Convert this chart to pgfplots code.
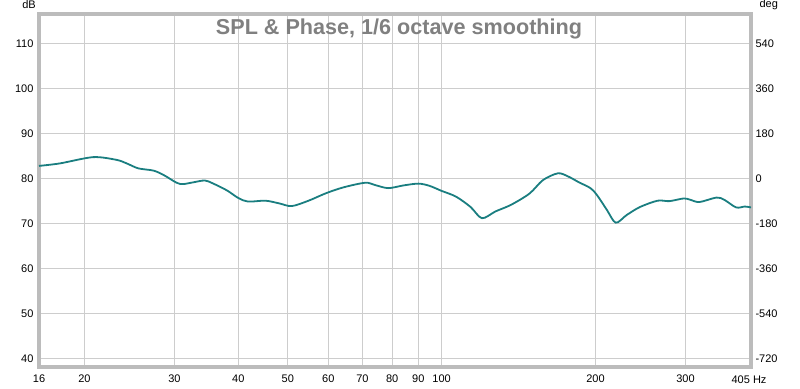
\documentclass[border=0pt]{standalone}
\usepackage{pgfplots}
\pgfplotsset{compat=1.18}
\usepackage{fontspec}
\setmainfont{Liberation Sans}
\definecolor{curve}{RGB}{26,126,128}
\definecolor{gridc}{RGB}{205,205,205}
\definecolor{framec}{RGB}{188,188,188}
\definecolor{titlec}{RGB}{128,128,128}
\begin{document}
\begin{tikzpicture}
\useasboundingbox (-39pt,-21pt) rectangle (761pt,367pt);
\begin{axis}[
 at={(0,0)}, anchor=south west,
 scale only axis, width=712pt, height=353pt,
 xmode=log, xmin=16.3, xmax=403,
 ymin=38.06, ymax=116.68,
 xtick={16.3,20,30,40,50,60,70,80,90,100,200,300,403},
 xticklabels={16,20,30,40,50,60,70,80,90,100,200,300,},
 ytick={40,50,...,110},
 grid=major, major grid style={gridc, line width=1pt},
 major tick length=0pt,
 axis line style={framec, line width=3.2pt},
 tick label style={font=\fontsize{11}{13}\selectfont, text=black},
 /pgf/number format/assume math mode=true,
 xticklabel style={yshift=-4pt},
 yticklabel style={xshift=-2pt},
 clip=false,
]
\addplot[curve, line width=1.8pt, smooth, tension=0.5] coordinates {
(16.3,82.85) (17.9,83.4) (20.8,84.8) (23.1,84.2) (24.2,83.4) (25.5,82.3)
(27.3,81.8) (28.6,80.8) (30.3,79.1) (31.2,78.8) (32.7,79.2) (34.4,79.6)
(35.6,79.0) (38.0,77.4) (40.0,75.7) (41.8,74.9) (45.2,75.1) (48.1,74.5)
(50.9,73.9) (54.9,75.1) (59.5,76.8) (64.4,78.1) (70.9,79.1) (74.0,78.6)
(78.6,77.9) (84.2,78.5) (90.1,78.9) (94.7,78.4) (99.9,77.3) (106.7,76.0)
(113.9,73.7) (119.9,71.2) (127.4,72.7) (136.8,74.2) (148.6,76.7) (157.9,79.7)
(168.9,81.2) (176.8,80.5) (185.6,79.2) (195.5,77.9) (201.2,76.4) (210.4,73.1)
(219.1,70.2) (230.1,71.9) (244.4,73.7) (264.6,75.1) (279.0,75.0) (297.7,75.6)
(306.6,75.3) (319.5,74.8) (345.0,75.8) (357.3,75.3) (377.0,73.6) (392.0,73.8)
(403,73.6)
};
\node[anchor=base, yshift=-20pt, font=\fontsize{21.6}{26}\selectfont\bfseries, text=titlec]
  at (rel axis cs:0.5056,1) {SPL \& Phase, 1/6 octave smoothing};
\node[anchor=base, xshift=-10pt, yshift=5pt, font=\fontsize{11}{13}\selectfont] at (rel axis cs:0,1) {dB};
\node[anchor=base west, xshift=5pt, yshift=6pt, font=\fontsize{11}{13}\selectfont] at (rel axis cs:1,1) {deg};
\node[anchor=base east, xshift=19pt, yshift=-16pt, font=\fontsize{11}{13}\selectfont] at (rel axis cs:1,0) {405 Hz};
\end{axis}
\begin{axis}[
 at={(0,0)}, anchor=south west,
 scale only axis, width=712pt, height=353pt,
 xmode=log, xmin=16.3, xmax=403,
 hide x axis, axis y line*=right,
 ymin=-754.9, ymax=660.2,
 ytick={-720,-540,-360,-180,0,180,360,540},
 major tick length=0pt,
 axis line style={draw=none},
 yticklabel style={font=\fontsize{11}{13}\selectfont, anchor=west, xshift=1pt},
 /pgf/number format/assume math mode=true,
]
\addplot[draw=none] coordinates {(20,0)};
\end{axis}
\end{tikzpicture}
\end{document}
